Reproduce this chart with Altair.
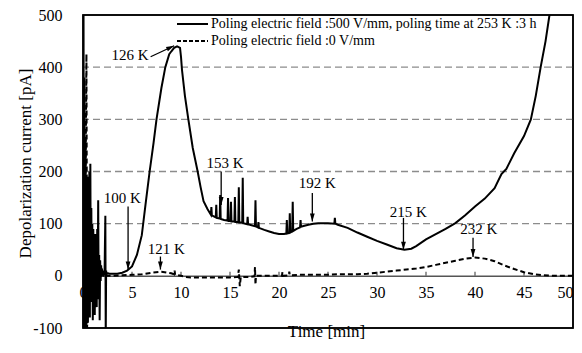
import altair as alt
import pandas as pd

FONT = "Liberation Serif"

# ---------------- data ----------------
# Poling electric field 500 V/mm (solid)
noise_t = [0.00, 0.05, 0.10, 0.15, 0.20, 0.25, 0.30, 0.35, 0.40, 0.45, 0.50, 0.55, 0.60, 0.65,
           0.70, 0.75, 0.80, 0.85, 0.90, 0.95, 1.00, 1.05, 1.10, 1.15, 1.20, 1.25, 1.30, 1.35,
           1.40, 1.45, 1.50, 1.55, 1.60, 1.65, 1.70, 1.75, 1.80, 1.85, 1.90, 2.00, 2.10, 2.20,
           2.28, 2.32, 2.36, 2.40, 2.50]
noise_v = [0, 560, -120, 380, -120, 260, -110, 170, -60, 190, -90, 120, -40, 200,
           -80, 215, -50, 130, -20, 100, -85, 90, -30, 60, -75, 80, -20, 50,
           -60, 90, -10, 145, -45, 40, -85, 30, -10, 20, 0, 8, 2, 5,
           115, -120, 10, 3, 5]

rise_t = [2.70, 3.00, 3.50, 4.00, 4.50, 5.00, 5.50, 6.00, 6.40, 6.80, 7.20, 7.50, 8.00, 8.40,
          8.80, 9.00, 9.30, 9.60, 9.90, 10.00, 10.10, 10.40, 10.75, 11.20, 11.70, 12.00, 12.30, 12.70]
rise_v = [4, 4, 4, 6, 10, 18, 40, 78, 140, 200, 255, 300, 360, 400,
          425, 430, 437, 440, 437, 420, 395, 345, 300, 245, 200, 170, 143, 128]

spiky_t = [13.05, 13.10, 13.15, 13.55, 13.60, 13.65, 13.95, 14.00, 14.05, 14.40,
           14.75, 14.80, 14.85, 15.05, 15.10, 15.15, 15.45, 15.50, 15.55, 15.85, 15.90, 15.95,
           16.25, 16.30, 16.35, 16.75, 16.80, 16.85, 17.20, 17.55, 17.60, 17.65, 17.85, 17.90, 17.95,
           18.50, 19.00, 19.50, 20.00, 20.50, 20.75, 20.80, 20.85, 21.05, 21.10, 21.15,
           21.35, 21.40, 21.45, 21.80, 22.15, 22.20, 22.25, 22.60, 23.00, 23.50, 24.00, 24.50, 25.00,
           25.65, 25.70, 25.75, 26.00]
spiky_v = [117, 132, 116, 112, 136, 111, 110, 155, 109, 107,
           106, 149, 105, 105, 142, 104, 104, 151, 103, 103, 170, 102,
           102, 188, 101, 99, 113, 99, 97, 95, 145, 95, 93, 103, 92,
           88, 85, 82, 80, 80, 81, 107, 81, 82, 120, 83,
           85, 142, 86, 90, 93, 107, 94, 96, 98, 100, 101, 101, 101,
           100, 111, 100, 98]

tail_t = [27.0, 28.0, 29.0, 30.0, 31.0, 32.0, 32.8, 33.5, 34.0, 35.0, 36.0, 37.0, 38.0, 39.0,
          40.0, 41.0, 42.0, 42.7, 43.2, 44.0, 45.0, 45.7, 46.2, 46.7, 47.2, 47.6, 48.0]
tail_v = [92, 83, 75, 67, 60, 53, 50, 52, 57, 70, 80, 90, 101, 116,
          133, 148, 168, 195, 205, 235, 268, 300, 345, 400, 450, 500, 540]

# Poling electric field 0 V/mm (dashed)
zero_t = [0.00, 0.20, 0.35, 0.42, 0.50, 0.60, 1.0, 2.0, 3.0, 4.0, 5.0, 6.0, 7.0, 8.0, 9.0,
          9.30, 9.35, 9.40, 10.0, 10.5, 11.0, 12.0, 13.0, 14.0, 15.0, 15.8, 15.9, 16.0, 16.1,
          17.0, 17.5, 17.55, 17.6, 17.65, 18.5, 19.5, 20.3, 20.35, 20.4, 21.0, 21.05, 21.1,
          22.0, 24.0, 25.0, 26.0, 28.0, 29.0, 30.0, 31.0, 32.0, 33.0, 34.0, 35.0, 36.0, 37.0,
          38.0, 39.0, 40.0, 41.0, 42.0, 43.0, 44.0, 45.0, 46.0, 47.0, 48.0, 50.0]
zero_v = [0, 0, 425, -100, 0, 2, 0, 0, 0, 1, 2, 3, 6, 8, 5,
          3, 10, 2, 0, -2, -3, -3, -3, -3, -3, -2, 12, -20, -2,
          -2, -1, 17, -17, 0, 0, 0, 0, 7, 0, 1, 8, 1,
          2, 2, 2, 3, 3, 4, 6, 8, 10, 12, 14, 17, 21, 25,
          29, 33, 35, 33, 28, 20, 13, 7, 3, 1, 0, 0]

x_ticks = [0, 5, 10, 15, 20, 25, 30, 35, 40, 45, 50]
y_ticks = [-100, 0, 100, 200, 300, 400, 500]
grid_values = [100, 200, 300, 400]

legend_labels = ["Poling electric field :500 V/mm, poling time at 253 K :3 h",
                 "Poling electric field :0 V/mm"]

ann_text = ["126 K", "100 K", "121 K", "153 K", "192 K", "215 K", "232 K"]
ann_tx = [4.8, 4.0, 8.5, 14.5, 23.9, 33.2, 40.4]
ann_ty = [423, 150, 52, 216, 178, 123, 90]
arr_x1 = [6.9, 4.6, 7.9, 14.1, 23.4, 32.7, 39.8]
arr_y1 = [420, 133, 37, 200, 159, 111, 73]
arr_x2 = [9.3, 4.6, 7.9, 14.1, 23.4, 32.7, 39.8]
arr_y2 = [441, 12, 12, 136, 104, 50, 36]
arr_angle = [245, 0, 0, 0, 0, 0, 0]

# ---------------- frames ----------------
solid_df = pd.DataFrame({"t": noise_t + rise_t + spiky_t + tail_t,
                         "v": noise_v + rise_v + spiky_v + tail_v})
zero_df = pd.DataFrame({"t": zero_t, "v": zero_v})
ann_df = pd.DataFrame({"text": ann_text, "tx": ann_tx, "ty": ann_ty,
                       "ax": arr_x1, "ay": arr_y1, "bx": arr_x2, "by": arr_y2,
                       "ang": arr_angle})
grid_df = pd.DataFrame({"g": grid_values})
tick_df = pd.DataFrame({"tk": x_ticks[1:-1]})
tick_df["lo"] = 0
tick_df["hi"] = 8

xscale = alt.Scale(domain=[0, 50], nice=False, zero=False)
yscale = alt.Scale(domain=[-100, 500], nice=False, zero=False)

xaxis = alt.Axis(values=x_ticks, orient="bottom", offset=-52.17, domain=True,
                 domainColor="#555555", domainWidth=1.5, ticks=False, tickSize=0,
                 grid=False, labelPadding=9, labelFont=FONT, labelFontSize=16,
                 labelColor="black", labelFlush=False, labelBound=False, labelOverlap=False,
                 labelAlign={"condition": {"test": "datum.value == 50", "value": "right"},
                             "value": "center"},
                 title="Time [min]", titleFont=FONT, titleFontSize=17,
                 titleFontWeight="normal", titleColor="black", titleX=243, titleY=56,
                 titleBaseline="middle", titleAlign="center")
yaxis = alt.Axis(values=y_ticks, domain=False, ticks=False, tickSize=0, grid=False,
                 labelPadding=21, labelFont=FONT, labelFontSize=16, labelColor="black",
                 labelExpr="'' + datum.value", labelOverlap=False,
                 title="Depolarization current [pA]", titleFont=FONT, titleFontSize=17,
                 titleFontWeight="normal", titleColor="black", titleAngle=270,
                 titleX=-58, titleY=148, titleAlign="center", titleBaseline="middle")


def X(field):
    return alt.X(field, scale=xscale, axis=xaxis)


def Y(field):
    return alt.Y(field, scale=yscale, axis=yaxis)


grid = alt.Chart(grid_df).mark_rule(color="#8c8c8c", strokeDash=[7, 4], strokeWidth=1.3).encode(
    y=Y("g:Q"))

ticks = alt.Chart(tick_df).mark_rule(color="#555555", strokeWidth=1.2).encode(
    x=X("tk:Q"), y=Y("lo:Q"), y2="hi:Q")

solid = alt.Chart(solid_df).mark_line(color="black", strokeWidth=2, clip=True).encode(
    x=X("t:Q"), y=Y("v:Q"))

dashed = alt.Chart(zero_df).mark_line(color="black", strokeWidth=2, strokeDash=[5, 3],
                                      clip=True).encode(
    x=X("t:Q"), y=Y("v:Q"))

arrows = alt.Chart(ann_df).mark_rule(color="black", strokeWidth=1.3).encode(
    x=X("ax:Q"), y=Y("ay:Q"), x2="bx:Q", y2="by:Q")

heads = alt.Chart(ann_df).mark_point(shape="M0,0L-0.6,-2L0.6,-2Z", filled=True, size=64,
                                     color="black", opacity=1).encode(
    x=X("bx:Q"), y=Y("by:Q"), angle=alt.Angle("ang:Q", scale=None))

labels = alt.Chart(ann_df).mark_text(font=FONT, fontSize=15, color="black",
                                     baseline="middle", align="center").encode(
    x=X("tx:Q"), y=Y("ty:Q"), text="text:N")

leg_df1 = pd.DataFrame({"label": [legend_labels[0]]})
leg_df2 = pd.DataFrame({"label": [legend_labels[1]]})
leg1_line = alt.Chart(leg_df1).mark_rule(color="black", strokeWidth=2).encode(
    x=alt.value(94), x2=alt.value(125), y=alt.value(9))
leg2_line = alt.Chart(leg_df2).mark_rule(color="black", strokeWidth=2, strokeDash=[4, 2]).encode(
    x=alt.value(94), x2=alt.value(125), y=alt.value(26))
leg1_text = alt.Chart(leg_df1).mark_text(font=FONT, fontSize=14, color="black",
                                         align="left", baseline="middle").encode(
    x=alt.value(128), y=alt.value(9), text="label:N")
leg2_text = alt.Chart(leg_df2).mark_text(font=FONT, fontSize=14, color="black",
                                         align="left", baseline="middle").encode(
    x=alt.value(128), y=alt.value(26), text="label:N")

frame = alt.Chart(leg_df1).mark_rect(fillOpacity=0, stroke="black", strokeWidth=1.5).encode(
    x=alt.value(0), x2=alt.value(490), y=alt.value(0), y2=alt.value(313))

chart = alt.layer(
    grid, ticks, dashed, solid, arrows, heads, labels,
    leg1_line, leg2_line, leg1_text, leg2_text, frame
).properties(
    width=490, height=313,
    autosize=alt.AutoSizeParams(type="none"),
    padding={"left": 75, "top": 7, "right": 1, "bottom": 16},
    background="white",
).configure_view(stroke="black", strokeWidth=1.5)

chart.save("out.html", embed_options={"renderer": "svg", "actions": False})
